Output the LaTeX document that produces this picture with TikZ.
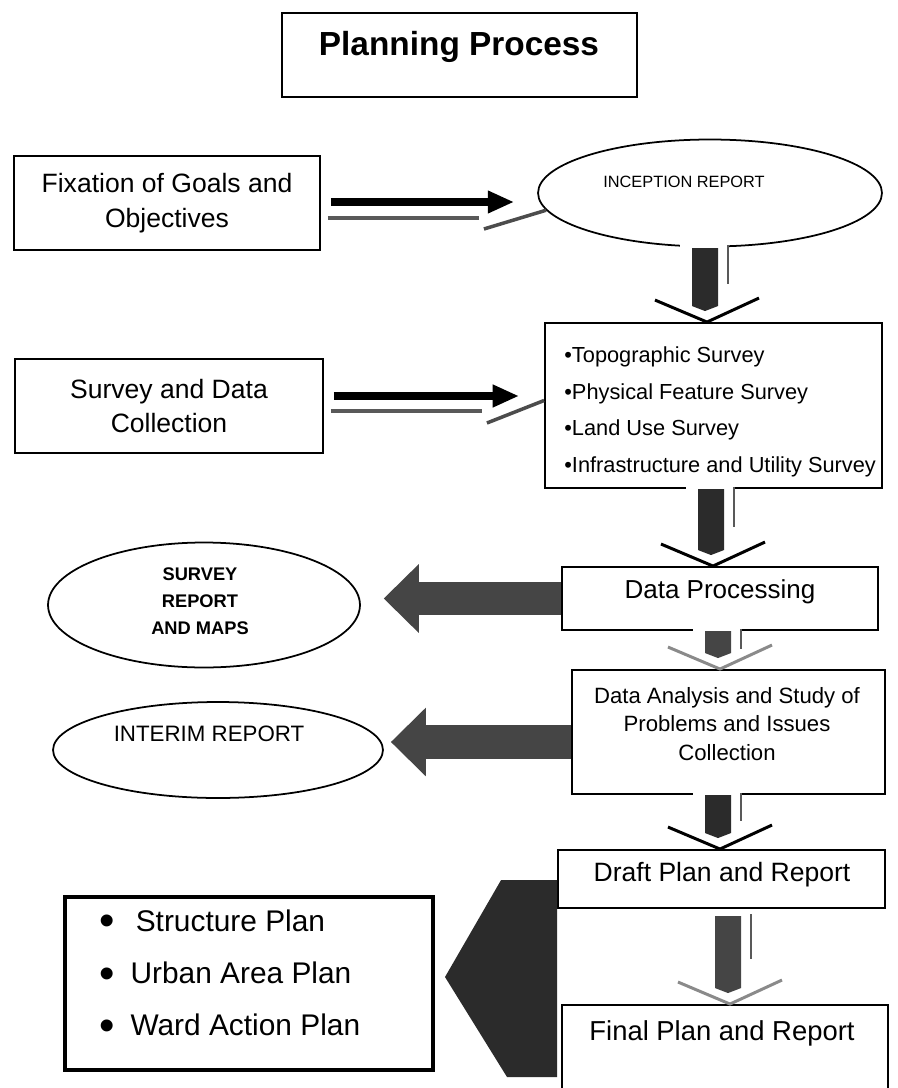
\documentclass[tikz,border=0pt]{standalone}
\usepackage{fontspec}
\setmainfont{Liberation Sans}
\usetikzlibrary{shapes.geometric,arrows.meta,calc}

\definecolor{blockdark}{HTML}{2B2B2B}
\definecolor{blockgray}{HTML}{454545}
\definecolor{shadegray}{HTML}{8A8A8A}
\newcommand{\bigdot}{\raisebox{-2.5pt}{\fontsize{25}{25}\selectfont\textbullet}}

\begin{document}
\begin{tikzpicture}[x=0.02cm,y=-0.02cm,
		box/.style={draw,line width=1.1pt,inner sep=0pt,align=center},
		oval/.style={draw,ellipse,line width=1pt,inner sep=0pt},
		boxtext/.style={font=\fontsize{15.1}{19.8}\selectfont,align=center},
		shaft/.style={line width=4.5pt,-{Triangle[length=15pt,width=12pt]}},
		undershaft/.style={line width=2.6pt,draw=black!65},
		slant/.style={line width=2pt,draw=black!70},
		fatarrow/.style={draw=blockgray,line width=19pt,-{Triangle[length=20pt,width=38pt]}},
		pics/dnarrow/.style n args={3}{code={
			\fill[white] (-27,-#1-3) rectangle (20,-#1+3);
			\fill[#2] (-15,-#1+2) -- (11,-#1+2) -- (11,-16) -- (-2,-11) -- (-15,-16) -- cycle;
			\draw[gray!70!black,line width=1pt] (21,-#1) -- (21,-#1/2);
			\draw[#3,line width=1.7pt] (-52,-22) -- (0,0) -- (52,-24);
		}}]

	\useasboundingbox (0,0) rectangle (898,1088);

	\node[box,minimum width=7.1cm,minimum height=1.68cm] (title) at (459.5,55) {};
	\node[font=\bfseries\fontsize{19}{22}\selectfont] at (459,47) {Planning Process};

	\node[box,boxtext,minimum width=6.12cm,minimum height=1.88cm] (fix) at (167,203) {Fixation of Goals and\\Objectives};
	\node[box,boxtext,minimum width=6.16cm,minimum height=1.88cm] (sdc) at (169,406) {Survey and Data\\Collection};

	\node[oval,minimum width=6.88cm,minimum height=2.14cm] (inc) at (710,193) {};
	\node[font=\fontsize{9.3}{11}\selectfont] at (684,182) {INCEPTION REPORT};

	\node[box,minimum width=6.74cm,minimum height=3.3cm] (topo) at (713.5,405.5) {};
	\node[anchor=west,align=left,inner sep=0pt,font=\fontsize{12.4}{20.8}\selectfont] at (564,412)
		{\textbullet Topographic Survey\\\textbullet Physical Feature Survey\\\textbullet Land Use Survey\\\textbullet Infrastructure and Utility Survey};

	\node[box,minimum width=6.32cm,minimum height=1.26cm] (dp) at (720,598.5) {};
	\node[font=\fontsize{14.8}{17}\selectfont] at (720,592) {Data Processing};

	\node[oval,minimum width=6.24cm,minimum height=2.5cm] (sr) at (204,605) {};
	\node[font=\bfseries\fontsize{10.4}{15.3}\selectfont,align=center] at (200,601) {SURVEY\\REPORT\\AND MAPS};

	\node[box,minimum width=6.26cm,minimum height=2.48cm] (da) at (728.5,732) {};
	\node[font=\fontsize{12.6}{16}\selectfont,align=center] at (727,724) {Data Analysis and Study of\\Problems and Issues\\Collection};

	\node[oval,minimum width=6.6cm,minimum height=1.92cm] (ir) at (218,750) {};
	\node[font=\fontsize{12.7}{15}\selectfont] at (209,734) {INTERIM REPORT};

	\node[box,minimum width=6.54cm,minimum height=1.16cm] (draft) at (721.5,879) {};
	\node[font=\fontsize{15.1}{17}\selectfont] at (722,875) {Draft Plan and Report};

	\node[box,minimum width=6.52cm,minimum height=1.9cm] (fin) at (725,1052.5) {};
	\node[font=\fontsize{15.6}{18}\selectfont] at (722,1033) {Final Plan and Report};

	\node[box,line width=2.2pt,minimum width=7.36cm,minimum height=3.46cm] (plans) at (249,983.5) {};
	\node[anchor=west,align=left,inner sep=0pt,font=\fontsize{17}{29.8}\selectfont] at (99,975)
		{\bigdot\hspace{12pt}Structure Plan\\\bigdot\hspace{9pt}Urban Area Plan\\\bigdot\hspace{9pt}Ward Action Plan};

	\draw[shaft] ($(fix.east)+(10,-1)$) -- ($(inc.west |- fix.east)+(-23,-1)$);
	\draw[undershaft] ($(fix.east)+(7,15)$) -- ++(151,0);
	\draw[slant] ($(fix.east)+(163,26)$) -- (inc.186);

	\draw[shaft] ($(sdc.east)+(10,-10)$) -- ($(topo.west |- sdc.east)+(-25,-10)$);
	\draw[undershaft] ($(sdc.east)+(7,5)$) -- ++(151,0);
	\draw[slant] ($(sdc.east)+(163,17)$) -- ($(topo.west)+(0,-5)$);

	\pic at (707,0 |- topo.north) {dnarrow={76}{blockdark}{black}};
	\pic at (713,0 |- dp.north) {dnarrow={79}{blockdark}{black}};
	\pic at (720,0 |- da.north) {dnarrow={40}{blockgray}{shadegray}};
	\pic at (720,0 |- draft.north) {dnarrow={56}{blockdark}{black}};
	\pic at (730,0 |- fin.north) {dnarrow={90}{blockgray}{shadegray}};

	\draw[fatarrow,shorten >=13pt] (dp.west) -- (sr.east |- dp.west);
	\draw[fatarrow] ($(da.west)+(0,10)$) -- ($(ir.east |- da.west)+(7,10)$);

	\fill[blockdark] (draft.west |- 0,880) -- ++(-56,0) -- (445,977) -- (507,1077) -- (draft.west |- 0,1077) -- cycle;
\end{tikzpicture}
\end{document}
